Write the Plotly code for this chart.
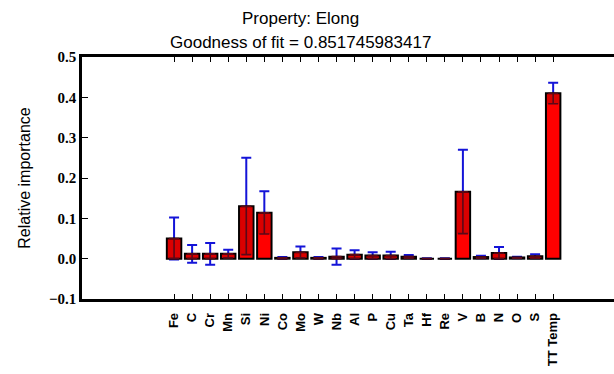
import plotly.graph_objects as go

# Feature names and their relative importance with spread
features = ["Fe", "C", "Cr", "Mn", "Si", "Ni", "Co", "Mo", "W", "Nb", "Al", "P",
            "Cu", "Ta", "Hf", "Re", "V", "B", "N", "O", "S", "TT Temp"]
importance = [0.050, 0.012, 0.012, 0.012, 0.130, 0.114, 0.002, 0.016, 0.002, 0.005, 0.010, 0.008,
              0.008, 0.005, 0.000, 0.000, 0.166, 0.004, 0.014, 0.003, 0.006, 0.410]
spread = [0.052, 0.022, 0.027, 0.010, 0.120, 0.053, 0.002, 0.014, 0.002, 0.020, 0.011, 0.008,
          0.009, 0.004, 0.001, 0.001, 0.104, 0.003, 0.015, 0.002, 0.005, 0.026]

title_lines = ["Property: Elong", "Goodness of fit = 0.851745983417"]

band_base = [max(0.0, v - e) for v, e in zip(importance, spread)]
band_height = [v - b for v, b in zip(importance, band_base)]

fig = go.Figure()

# blue error bars, drawn first so the bars cover their inner part
fig.add_trace(go.Bar(
    x=features, y=importance, width=0.8,
    marker=dict(color="rgba(0,0,0,0)", line=dict(width=0)),
    error_y=dict(type="data", array=spread, color="#1414d8", thickness=2, width=5),
    hoverinfo="skip", showlegend=False,
))

# main bars
fig.add_trace(go.Bar(
    x=features, y=importance, width=0.8,
    marker=dict(color="#ff0000", line=dict(color="black", width=2)),
    showlegend=False,
))

# darker band covering the lower half of the spread inside each bar
fig.add_trace(go.Bar(
    x=features, y=band_height, base=band_base, width=0.72,
    marker=dict(color="rgba(150,0,0,0.35)", line=dict(width=0)),
    error_y=dict(type="data", symmetric=False, array=[0] * len(features),
                 arrayminus=band_height, color="#5a0818", thickness=1.6, width=5),
    hoverinfo="skip", showlegend=False,
))

# two-line title
for text, shift in zip(title_lines, [39, 15]):
    fig.add_annotation(
        text=text, xref="paper", yref="paper", x=0.4098, y=1,
        xanchor="center", yanchor="middle", yshift=shift, showarrow=False,
        font=dict(family="Liberation Sans", size=17, color="black"),
    )

fig.update_layout(
    width=614, height=374,
    margin=dict(l=82, r=0, t=57, b=75),
    paper_bgcolor="white", plot_bgcolor="white",
    barmode="overlay",
)

fig.update_xaxes(
    type="category", range=[-5.1, 24.37],
    showline=True, linecolor="black", linewidth=2.5, mirror="ticks",
    ticks="inside", ticklen=5, tickwidth=1.2, tickcolor="black",
    tickangle=-90, showgrid=False, zeroline=False, ticklabelstandoff=6,
    tickfont=dict(family="Liberation Sans", size=13, color="black", weight="bold"),
    automargin=False,
)

fig.update_yaxes(
    range=[-0.1, 0.5], dtick=0.1, tickformat=".1f",
    showline=True, linecolor="black", linewidth=2.5, mirror=False,
    ticks="inside", ticklen=6, tickwidth=1.2, tickcolor="black",
    showgrid=False, zeroline=False,
    tickfont=dict(family="Liberation Serif", size=15, color="black", weight="bold"),
    title=dict(text="Relative importance", standoff=15,
               font=dict(family="Liberation Sans", size=16, color="black")),
    automargin=False,
)

fig.write_html("out.html")
